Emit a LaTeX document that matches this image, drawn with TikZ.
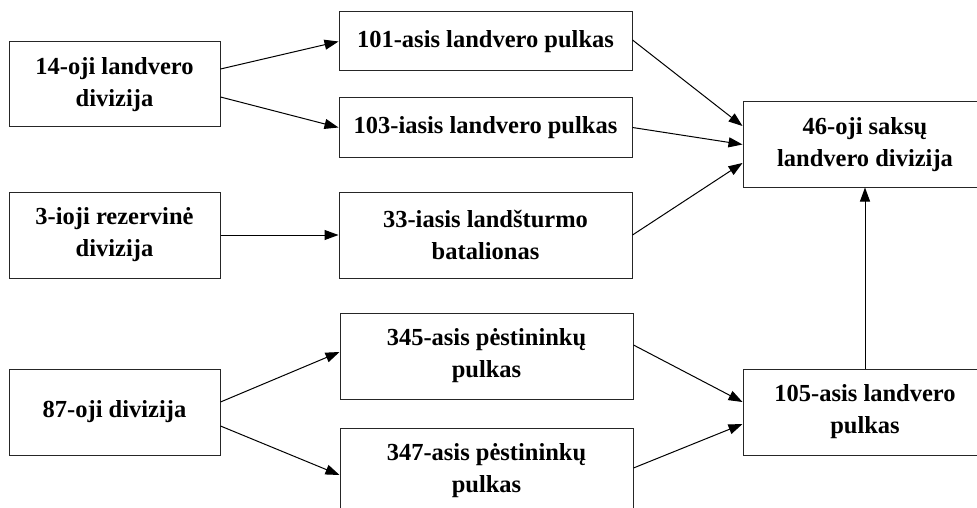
\documentclass[tikz,border=0pt]{standalone}
\usepackage{fontspec}
\setmainfont{Liberation Serif}
\usetikzlibrary{arrows.meta}
\begin{document}
\begin{tikzpicture}[x=1pt,y=-1pt,
  box/.style={draw=black!85,line width=1pt,fill=white,inner sep=0pt,align=center,
    font=\bfseries\fontsize{24.5}{32}\selectfont},
  conn/.style={line width=1pt,-{Triangle[length=14pt,width=10pt]}}]
\useasboundingbox (0,0) rectangle (977,508);
\clip (0,0) rectangle (977,508);
\fill[white] (0,0) rectangle (977,508);
\node[box,minimum width=211pt,minimum height=85pt] (A) at (114.5,84.5) {14-oji landvero\\divizija};
\node[box,minimum width=293pt,minimum height=59pt] (B) at (485.5,41.5) {101-asis landvero pulkas};
\node[box,minimum width=293pt,minimum height=59pt] (C) at (485.5,127.5) {103-iasis landvero pulkas};
\node[box,minimum width=244pt,minimum height=85pt] (D) at (865,144.5) {46-oji saksų\\landvero divizija};
\node[box,minimum width=211pt,minimum height=86pt] (E) at (114.5,235) {3-ioji rezervinė\\divizija};
\node[box,minimum width=293pt,minimum height=86pt] (F) at (485.5,235) {33-iasis landšturmo\\batalionas};
\node[box,minimum width=211pt,minimum height=86pt] (G) at (114.5,412) {87-oji divizija};
\node[box,minimum width=293pt,minimum height=86pt] (H) at (486.5,356) {345-asis pėstininkų\\pulkas};
\node[box,minimum width=293pt,minimum height=86pt] (I) at (486.5,471) {347-asis pėstininkų\\pulkas};
\node[box,minimum width=244pt,minimum height=86pt] (J) at (865,412) {105-asis landvero\\pulkas};
\draw[conn] ([yshift=15.5pt]A.east) -- (B.west);
\draw[conn] ([yshift=-12.5pt]A.east) -- (C.west);
\draw[conn] (E.east) -- (F.west);
\draw[conn] ([yshift=10pt]G.east) -- ([yshift=4pt]H.west);
\draw[conn] ([yshift=-14pt]G.east) -- ([yshift=-4pt]I.west);
\draw[conn] ([yshift=1.5pt]B.east) -- ([yshift=18.5pt]D.west);
\draw[conn] (C.east) -- (D.west);
\draw[conn] (F.east) -- ([yshift=-18.5pt]D.west);
\draw[conn] ([yshift=11pt]H.east) -- ([yshift=10pt]J.west);
\draw[conn] ([yshift=3pt]I.east) -- ([yshift=-12pt]J.west);
\draw[conn] (J.north) -- (D.south);
\end{tikzpicture}
\end{document}
